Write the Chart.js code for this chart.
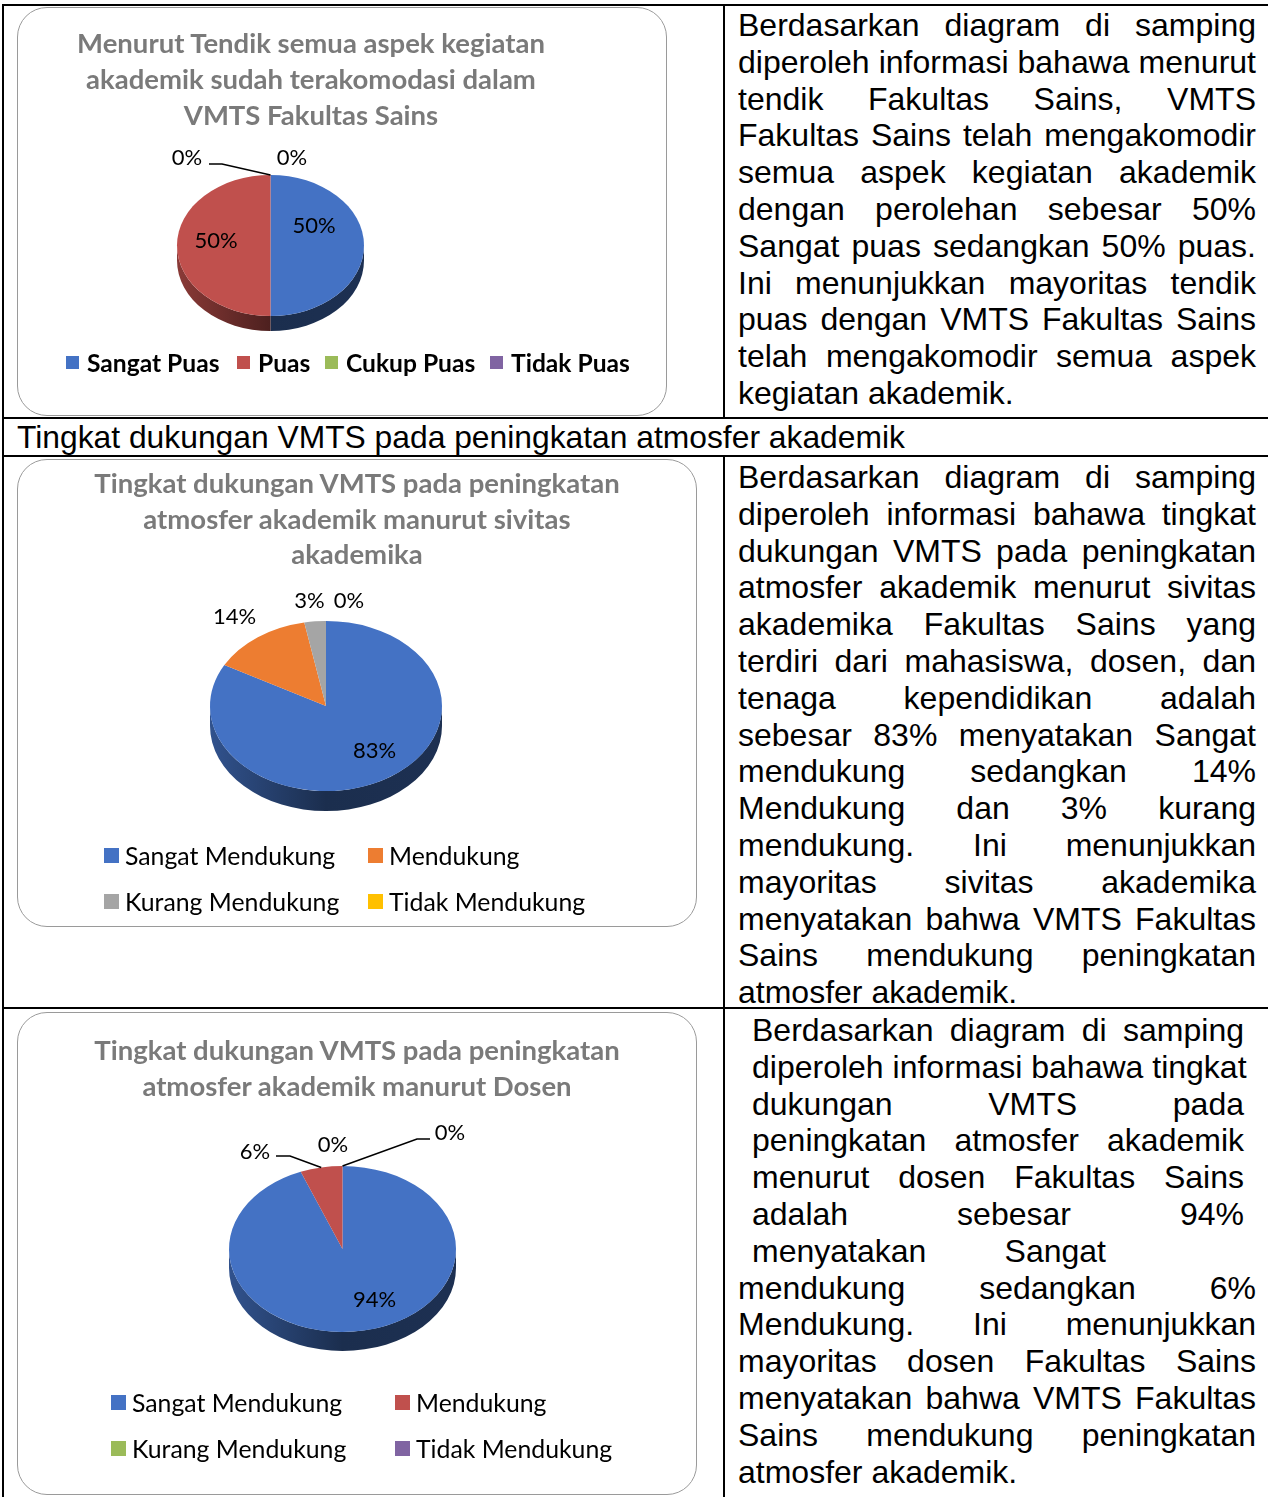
<!DOCTYPE html>
<html>
<head>
<meta charset="utf-8">
<title>VMTS Fakultas Sains</title>
<script src="https://cdn.jsdelivr.net/npm/chart.js@4"></script>
<style>
  body { margin: 0; background: #fff; color: #000; font-family: "Liberation Sans", Arial, sans-serif; }
  table.sheet { position: absolute; left: 2px; top: 4px; border-collapse: collapse; table-layout: fixed; width: 1271px; }
  .sheet td { border: 2px solid #000; padding: 0; vertical-align: top; }
  .sheet td.head { font-size: 31.8px; padding-left: 13px; height: 36px; line-height: 36px; white-space: nowrap; }
  .wrap { box-sizing: border-box; padding-left: 13px; }
  .box { position: relative; }
  .frame { position: absolute; inset: 0; border: 1.5px solid #9a9a9a; border-radius: 30px; pointer-events: none; }
  .box canvas { position: absolute; left: 0; top: 0; }
  .ctitle { position: absolute; left: 0; text-align: center; font-family: Lato, sans-serif; font-weight: bold; color: #7a7a7a; white-space: nowrap; }
  .clegend { position: absolute; font-family: Lato, sans-serif; color: #000; white-space: nowrap; }
  .clegend .item { position: absolute; display: flex; align-items: center; }
  .clegend .sw { display: inline-block; flex: none; }
  .txt { font-size: 32px; line-height: 36.8px; box-sizing: border-box; }
  .txt .j { text-align: justify; text-align-last: justify; white-space: nowrap; }
</style>
</head>
<body>
<table class="sheet">
  <colgroup><col style="width:721px"><col style="width:550px"></colgroup>
  <tr>
    <td><div class="wrap" style="height:411px;padding-top:1px"><div class="box" id="box1" style="width:650px;height:409px"></div></div></td>
    <td><div class="txt" id="txt1" style="height:411px;padding-top:1px"></div></td>
  </tr>
  <tr><td colspan="2" class="head">Tingkat dukungan VMTS pada peningkatan atmosfer akademik</td></tr>
  <tr>
    <td><div class="wrap" style="height:550px;padding-top:2px"><div class="box" id="box2" style="width:680px;height:468px"></div></div></td>
    <td><div class="txt" id="txt2" style="height:550px;padding-top:2px"></div></td>
  </tr>
  <tr>
    <td><div class="wrap" style="height:500px;padding-top:3px"><div class="box" id="box3" style="width:680px;height:483px"></div></div></td>
    <td><div class="txt" id="txt3" style="height:500px;padding-top:3px"></div></td>
  </tr>
</table>

<script>
// ---- data ----
const puasLabels = ['Sangat Puas', 'Puas', 'Cukup Puas', 'Tidak Puas'];
const dukungLabels = ['Sangat Mendukung', 'Mendukung', 'Kurang Mendukung', 'Tidak Mendukung'];

const tendikValues = [50, 50, 0, 0];   // persen
const sivitasValues = [83, 14, 3, 0];
const dosenValues = [94, 6, 0, 0];

const tendikTitle = ['Menurut Tendik semua aspek kegiatan', 'akademik sudah terakomodasi dalam', 'VMTS Fakultas Sains'];
const sivitasTitle = ['Tingkat dukungan VMTS pada peningkatan', 'atmosfer akademik manurut sivitas', 'akademika'];
const dosenTitle = ['Tingkat dukungan VMTS pada peningkatan', 'atmosfer akademik manurut Dosen'];

// office palettes
const colors2007 = ['#4472C4', '#C0504D', '#9BBB59', '#8064A2'];
const colors2013 = ['#4472C4', '#ED7D31', '#A5A5A5', '#FFC000'];

// text beside the charts, one entry per printed line
const text1 = [
  'Berdasarkan diagram di samping',
  'diperoleh informasi bahawa menurut',
  'tendik Fakultas Sains, VMTS',
  'Fakultas Sains telah mengakomodir',
  'semua aspek kegiatan akademik',
  'dengan perolehan sebesar 50%',
  'Sangat puas sedangkan 50% puas.',
  'Ini menunjukkan mayoritas tendik',
  'puas dengan VMTS Fakultas Sains',
  'telah mengakomodir semua aspek',
  'kegiatan akademik.'
];
const text2 = [
  'Berdasarkan diagram di samping',
  'diperoleh informasi bahawa tingkat',
  'dukungan VMTS pada peningkatan',
  'atmosfer akademik menurut sivitas',
  'akademika Fakultas Sains yang',
  'terdiri dari mahasiswa, dosen, dan',
  'tenaga kependidikan adalah',
  'sebesar 83% menyatakan Sangat',
  'mendukung sedangkan 14%',
  'Mendukung dan 3% kurang',
  'mendukung. Ini menunjukkan',
  'mayoritas sivitas akademika',
  'menyatakan bahwa VMTS Fakultas',
  'Sains mendukung peningkatan',
  'atmosfer akademik.'
];
const text3a = [
  'Berdasarkan diagram di samping',
  'diperoleh informasi bahawa tingkat',
  'dukungan VMTS pada',
  'peningkatan atmosfer akademik',
  'menurut dosen Fakultas Sains',
  'adalah sebesar 94%'
];
const text3b = 'menyatakan Sangat';
const text3c = [
  'mendukung sedangkan 6%',
  'Mendukung. Ini menunjukkan',
  'mayoritas dosen Fakultas Sains',
  'menyatakan bahwa VMTS Fakultas',
  'Sains mendukung peningkatan',
  'atmosfer akademik.'
];

// ---- helpers ----
function shade(hex, f) {
  const n = parseInt(hex.slice(1), 16);
  const r = Math.round(((n >> 16) & 255) * f);
  const g = Math.round(((n >> 8) & 255) * f);
  const b = Math.round((n & 255) * f);
  return 'rgb(' + r + ',' + g + ',' + b + ')';
}

// draws the pie as a tilted disc: side wall first, then the squashed top
const pie3d = {
  id: 'pie3d',
  beforeDatasetsDraw(chart, args, opts) {
    const ctx = chart.ctx;
    const arcs = chart.getDatasetMeta(0).data;
    const colors = chart.data.datasets[0].backgroundColor;
    const cx = arcs[0].x, cy = arcs[0].y, r = arcs[0].outerRadius;
    const ry = r * opts.squash;
    arcs.forEach((arc, i) => {
      const s = Math.max(arc.startAngle, 0);
      const e = Math.min(arc.endAngle, Math.PI);
      if (e <= s) return;
      ctx.beginPath();
      ctx.ellipse(cx, cy, r, ry, 0, s, e);
      ctx.ellipse(cx, cy + opts.depth, r, ry, 0, e, s, true);
      ctx.closePath();
      const g = ctx.createLinearGradient(cx - r, 0, cx + r, 0);
      g.addColorStop(0, shade(colors[i], 0.72));
      g.addColorStop(0.5, shade(colors[i], 0.4));
      g.addColorStop(1, shade(colors[i], 0.42));
      ctx.fillStyle = g;
      ctx.fill();
    });
    ctx.save();
    ctx.translate(cx, cy);
    ctx.scale(1, opts.squash);
    ctx.translate(-cx, -cy);
  },
  afterDatasetsDraw(chart, args, opts) {
    const ctx = chart.ctx;
    ctx.restore();
    const arcs = chart.getDatasetMeta(0).data;
    const values = chart.data.datasets[0].data;
    const cx = arcs[0].x, cy = arcs[0].y, r = arcs[0].outerRadius;
    const ry = r * opts.squash;
    ctx.save();
    ctx.strokeStyle = '#000';
    ctx.lineWidth = 1.5;
    ctx.fillStyle = '#000';
    ctx.font = opts.fontSize + 'px Lato';
    ctx.textAlign = 'center';
    ctx.textBaseline = 'alphabetic';
    arcs.forEach((arc, i) => {
      const lead = opts.leaders[i];
      if (lead) {
        const mid = (arc.startAngle + arc.endAngle) / 2;
        ctx.beginPath();
        ctx.moveTo(cx + lead[0][0], cy + lead[0][1]);
        for (let k = 1; k < lead.length; k++) ctx.lineTo(cx + lead[k][0], cy + lead[k][1]);
        ctx.lineTo(cx + r * Math.cos(mid), cy + ry * Math.sin(mid));
        ctx.stroke();
      }
      const spot = opts.spots[i];
      ctx.fillText(values[i] + '%', cx + spot[0], cy + spot[1] + opts.fontSize * 0.36);
    });
    ctx.restore();
  }
};

function buildChart(boxId, labels, values, colors, title, cfg) {
  const box = document.getElementById(boxId);
  const canvas = document.createElement('canvas');
  canvas.width = cfg.w;
  canvas.height = cfg.h;
  canvas.style.width = cfg.w + 'px';
  canvas.style.height = cfg.h + 'px';
  box.appendChild(canvas);

  const chart = new Chart(canvas, {
    type: 'pie',
    data: {
      labels: labels,
      datasets: [{ data: values, backgroundColor: colors, borderWidth: 0 }]
    },
    options: {
      responsive: false,
      animation: false,
      events: [],
      layout: {
        padding: { left: cfg.cx - cfg.r, top: cfg.cy - cfg.r, right: cfg.w - cfg.cx - cfg.r, bottom: cfg.h - cfg.cy - cfg.r }
      },
      plugins: {
        legend: { display: false },
        title: { display: false },
        tooltip: { enabled: false },
        pie3d: { squash: cfg.squash, depth: cfg.depth, spots: cfg.spots, leaders: cfg.leaders, fontSize: 22 }
      }
    },
    plugins: [pie3d]
  });

  // title
  const t = document.createElement('div');
  t.className = 'ctitle';
  t.style.width = (cfg.titleX * 2) + 'px';
  t.style.top = (cfg.titleY - cfg.titleLine / 2) + 'px';
  t.style.fontSize = cfg.titleSize + 'px';
  t.style.lineHeight = cfg.titleLine + 'px';
  t.innerHTML = title.join('<br>');
  box.appendChild(t);

  // legend built from the chart's own labels and colours
  const lg = document.createElement('div');
  lg.className = 'clegend';
  lg.style.left = '0px';
  lg.style.top = '0px';
  lg.style.fontSize = cfg.legendSize + 'px';
  lg.style.fontWeight = cfg.legendBold ? 'bold' : 'normal';
  chart.data.labels.forEach((lab, i) => {
    const it = document.createElement('div');
    it.className = 'item';
    const pos = cfg.legendPos[i];
    it.style.left = pos[0] + 'px';
    it.style.top = (pos[1] - 20) + 'px';
    it.style.height = '40px';
    const sw = document.createElement('span');
    sw.className = 'sw';
    sw.style.width = cfg.swatch + 'px';
    sw.style.height = cfg.swatch + 'px';
    sw.style.background = chart.data.datasets[0].backgroundColor[i];
    sw.style.marginRight = cfg.swGap + 'px';
    it.appendChild(sw);
    it.appendChild(document.createTextNode(lab));
    lg.appendChild(it);
  });
  box.appendChild(lg);

  const fr = document.createElement('div');
  fr.className = 'frame';
  box.appendChild(fr);
  return chart;
}

function fillText(el, lines, left, width, lastPlain) {
  const blk = document.createElement('div');
  blk.style.marginLeft = left + 'px';
  blk.style.width = width + 'px';
  lines.forEach((ln, i) => {
    const d = document.createElement('div');
    if (!(lastPlain && i === lines.length - 1)) d.className = 'j';
    d.textContent = ln;
    blk.appendChild(d);
  });
  el.appendChild(blk);
}

// ---- charts ----
buildChart('box1', puasLabels, tendikValues, colors2007, tendikTitle, {
  w: 650, h: 409, cx: 253.5, cy: 238.5, r: 93.5, squash: 0.754, depth: 15,
  spots: [[43.5, -20.5], [-54.5, -5.5], [-83.5, -88.5], [21.5, -88.5]],
  leaders: { 2: [[-61.5, -81.5], [-48.5, -81.5]] },
  titleX: 294, titleY: 36, titleLine: 36, titleSize: 27.5,
  legendSize: 24.6, legendBold: true, swatch: 13, swGap: 8,
  legendPos: [[49, 355], [220, 355], [308, 355], [473, 355]]
});

buildChart('box2', dukungLabels, sivitasValues, colors2013, sivitasTitle, {
  w: 680, h: 468, cx: 309, cy: 247, r: 116, squash: 0.733, depth: 20,
  spots: [[48.5, 44], [-91.5, -90], [-16.5, -106], [23, -106]],
  leaders: {},
  titleX: 340, titleY: 24, titleLine: 35.5, titleSize: 27.5,
  legendSize: 24.8, legendBold: false, swatch: 15, swGap: 6,
  legendPos: [[87, 396], [351, 396], [87, 442], [351, 442]]
});

buildChart('box3', dukungLabels, dosenValues, colors2007, dosenTitle, {
  w: 680, h: 483, cx: 325.5, cy: 237, r: 113.5, squash: 0.731, depth: 19,
  spots: [[32, 50], [-87.5, -98], [-9.5, -105], [107.5, -117]],
  leaders: { 1: [[-66.5, -93], [-52.5, -93]], 3: [[87.5, -110], [74.5, -110]] },
  titleX: 340, titleY: 38, titleLine: 36, titleSize: 27.5,
  legendSize: 24.8, legendBold: false, swatch: 15, swGap: 6,
  legendPos: [[94, 390], [378, 390], [94, 436], [378, 436]]
});

// ---- text cells ----
fillText(document.getElementById('txt1'), text1, 13, 518, true);
fillText(document.getElementById('txt2'), text2, 13, 518, true);
const t3 = document.getElementById('txt3');
fillText(t3, text3a, 27, 492, false);
fillText(t3, [text3b], 27, 354, false);
fillText(t3, text3c, 13, 518, true);
</script>
</body>
</html>
